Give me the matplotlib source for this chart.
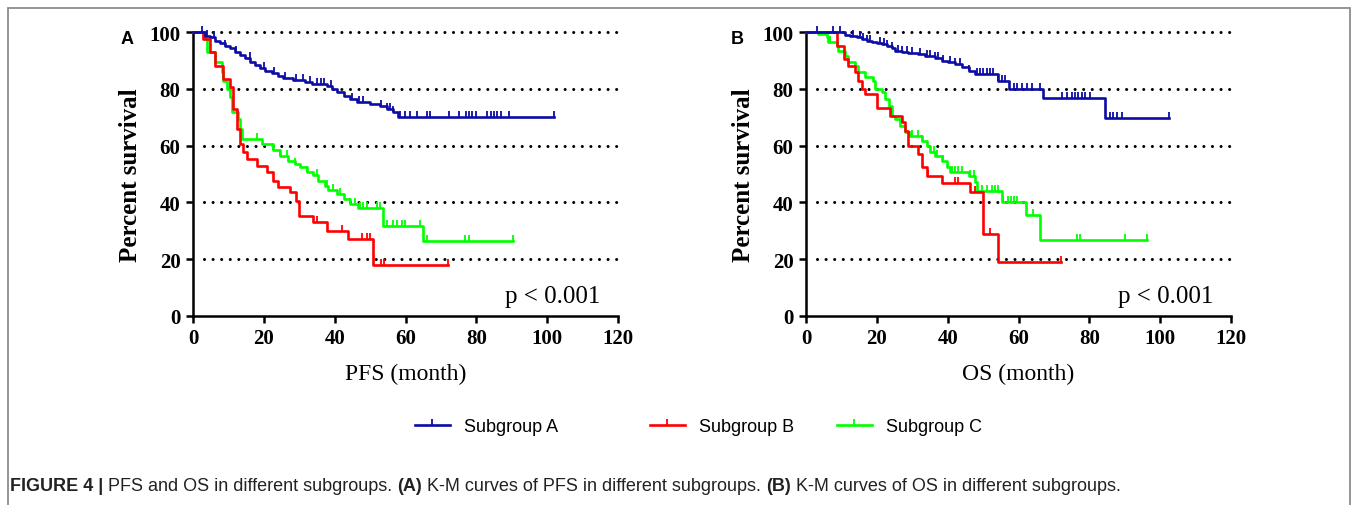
import matplotlib
matplotlib.use('Agg')
import matplotlib.pyplot as plt
import numpy as np
from matplotlib.lines import Line2D
from matplotlib.patches import Rectangle

GROUPS = ['Subgroup A', 'Subgroup B', 'Subgroup C']
COLORS = ['#0c0ca6', '#ff0000', '#00ff00']
X_TICKS = [0, 20, 40, 60, 80, 100, 120]
Y_TICKS = [0, 20, 40, 60, 80, 100]

# ---- PFS (panel A) ----
pfs_a_t = [3.4, 4.8, 6.2, 7.6, 9.0, 10.5, 11.9, 13.3, 14.7, 16.1, 17.5, 18.9, 20.3, 22.2,
           24.1, 25.5, 28.3, 31.6, 33.5, 37.8, 39.2, 40.6, 42.5, 44.4, 46.2, 50.0, 52.8,
           54.7, 56.6, 58.0]
pfs_a_s = [98.7, 98.1, 96.9, 96.1, 95.2, 94.3, 93.1, 91.9, 90.7, 89.6, 88.4, 87.2, 86.4, 85.6,
           84.6, 83.7, 83.2, 82.3, 81.7, 81.1, 79.9, 78.8, 77.6, 76.4, 75.5, 74.6, 73.8,
           72.9, 72.0, 70.2]
pfs_a_end = 102
pfs_a_cens = [2.5, 4, 6, 9, 12, 16, 20, 23, 26, 29, 31, 33, 35, 36, 37, 39, 45, 47, 48, 53,
              54.7, 55.6, 56.6, 58.5, 59.9, 61.3, 63.3, 66.1, 67, 72.3, 75.2, 77, 77.9, 78.9,
              79.8, 83.1, 84, 85, 85.9, 86.9, 89.1, 102]

pfs_b_t = [2.9, 4.8, 6.2, 8.6, 10.5, 11.4, 12.3, 13.3, 14.2, 15.2, 18.0, 20.8, 22.7, 24.1,
           27.4, 29.0, 29.8, 34.0, 37.8, 43.9, 50.8]
pfs_b_s = [97.5, 92.8, 88.1, 83.5, 80.5, 72.9, 65.8, 60.6, 57.6, 55.3, 52.9, 50.6, 47.6, 45.3,
           43.5, 40.6, 35.3, 33.0, 30.0, 27.1, 17.9]
pfs_b_end = 72
pfs_b_cens = [35, 42, 47.8, 49, 50, 53, 54, 72]

pfs_c_t = [3.4, 3.9, 6.2, 8.1, 8.6, 9.5, 10.5, 10.9, 12.8, 13.3, 13.7, 19.4, 22.7, 24.6,
           26.9, 28.8, 30.2, 32.1, 34.0, 35.4, 37.3, 38.2, 40.6, 42.5, 44.4, 46.6, 53.7, 65.0]
pfs_c_s = [97.5, 92.8, 89.3, 85.8, 82.9, 79.9, 77.0, 71.7, 69.4, 65.8, 62.3, 60.6, 58.3, 56.5,
           54.7, 53.6, 52.4, 50.6, 49.5, 47.7, 45.9, 44.2, 43.0, 41.2, 39.5, 38.0, 31.8, 26.5]
pfs_c_end = 90.3
pfs_c_cens = [12.8, 18, 22.7, 24.6, 26.5, 28.8, 32.1, 34.9, 37.8, 39.6, 41.5, 44.4, 45.8,
              47.2, 48.1, 49, 51.9, 52.8, 54.7, 56.6, 57.5, 58.9, 59.9, 64.1, 66, 76.8, 77.8, 90.3]

# ---- OS (panel B) ----
os_a_t = [11.0, 12.4, 14.3, 15.7, 17.1, 18.6, 20.0, 21.4, 22.8, 24.2, 25.1, 27.0, 28.9, 31.7,
          33.6, 36.4, 38.3, 40.2, 42.1, 44.0, 45.9, 47.7, 54.3, 57.2, 67.0, 84.5]
os_a_s = [98.9, 98.5, 98.1, 97.5, 96.9, 96.6, 96.1, 95.8, 95.2, 94.3, 93.4, 92.8, 92.6, 92.3,
          91.7, 90.7, 89.9, 89.3, 88.7, 87.6, 86.4, 85.2, 82.9, 79.9, 76.6, 69.7]
os_a_end = 102.4
os_a_cens = [3, 7.7, 9.6, 13.4, 15.3, 16.2, 17.1, 18.1, 20.9, 21.9, 22.8, 24.2, 26.1, 27, 28.4,
             29.9, 32.2, 34.1, 35, 36.4, 37.4, 38.8, 40.7, 42.1, 43.5, 45.9, 48.2, 49.2, 50.1,
             51, 52, 52.9, 54.3, 55.3, 56.2, 58.6, 59.5, 60.9, 62.3, 63.7, 66.1, 72.2, 73.6,
             75, 76, 76.9, 77.9, 78.8, 80.2, 85.9, 86.8, 87.8, 89.2, 102.4]

os_b_t = [8.7, 10.8, 11.9, 13.8, 14.8, 15.7, 16.7, 20.0, 23.7, 27.0, 28.0, 28.9, 31.7, 32.7,
          34.1, 38.3, 46.3, 50.1, 54.1]
os_b_s = [95.2, 90.5, 88.1, 85.8, 82.9, 79.9, 78.2, 73.1, 70.5, 68.2, 65.3, 60.0, 57.0, 52.3,
          49.4, 47.0, 43.5, 28.8, 19.1]
os_b_end = 72
os_b_cens = [27.2, 34.5, 42, 43, 47.7, 51.9, 72]

os_c_t = [3.5, 5.8, 6.3, 8.7, 9.1, 11.0, 11.9, 13.8, 14.8, 16.7, 19.0, 19.5, 21.4, 22.3, 23.3,
          24.2, 25.1, 26.6, 28.0, 29.4, 32.7, 34.1, 35.0, 36.4, 38.3, 39.7, 40.7, 45.9, 47.7,
          48.2, 55.3, 62.1, 66.1]
os_c_s = [99.3, 98.1, 96.4, 95.2, 93.4, 91.7, 89.3, 88.1, 85.8, 84.0, 82.9, 79.9, 78.8, 76.4,
          74.1, 70.5, 69.4, 67.0, 64.7, 63.5, 61.7, 60.0, 57.6, 56.5, 54.7, 52.3, 50.6, 49.4,
          47.1, 44.1, 40.0, 35.7, 26.8]
os_c_end = 96.4
os_c_cens = [6.8, 29.9, 31.7, 32.7, 36, 37, 38.8, 41.1, 42.1, 43, 44, 46.3, 47.3, 49.6, 51,
             52.4, 53.4, 54.3, 55.7, 57.1, 58, 58.6, 59.5, 64.2, 76.4, 77.4, 90.1, 96.4]

SERIF = 'Liberation Serif'
SANS = 'Liberation Sans'


def km_curve(ax, t, s, end, cens, color):
    x = np.r_[0, t, end]
    y = np.r_[100, s, s[-1]]
    ax.step(x, y, where='post', color=color, lw=1.9, clip_on=False, zorder=3)
    cens = np.asarray(cens, dtype=float)
    idx = np.searchsorted(x, cens, side='right') - 1
    ax.plot(cens, y[idx], ls='none', marker=2, ms=4, mew=1.3, color=color,
            clip_on=False, zorder=3)


def style_axis(ax, xlabel):
    ax.set_xlim(0, 120)
    ax.set_ylim(0, 100)
    ax.set_xticks(X_TICKS)
    ax.set_yticks(Y_TICKS)
    for sp in ['top', 'right']:
        ax.spines[sp].set_visible(False)
    for sp in ['left', 'bottom']:
        ax.spines[sp].set_linewidth(1.8)
    ax.tick_params(width=1.8, length=5, direction='out', pad=4)
    for lab in ax.get_xticklabels() + ax.get_yticklabels():
        lab.set_fontfamily(SERIF)
        lab.set_fontweight('bold')
        lab.set_fontsize(15)
    ax.hlines(Y_TICKS[1:], 3, 120, colors='black', lw=2.2,
              linestyles=[(0, (0.01, 2.8))], capstyle='round', zorder=1, clip_on=False)
    ax.set_xlabel(xlabel, fontfamily=SERIF, fontsize=17, labelpad=10)
    ax.set_ylabel('Percent survival', fontfamily=SERIF, fontsize=18,
                  fontweight='bold', labelpad=5)
    ax.text(115, 5, 'p < 0.001', fontfamily=SERIF, fontsize=18,
            ha='right', va='baseline')


fig = plt.figure(figsize=(13.57, 5.06), dpi=100)
W, H = 1357, 506
ax_a = fig.add_axes([193 / W, 1 - 317 / H, 425 / W, 284 / H])
ax_b = fig.add_axes([806 / W, 1 - 317 / H, 425 / W, 284 / H])

panels = [
    (ax_a, 'PFS (month)', [(pfs_a_t, pfs_a_s, pfs_a_end, pfs_a_cens),
                           (pfs_b_t, pfs_b_s, pfs_b_end, pfs_b_cens),
                           (pfs_c_t, pfs_c_s, pfs_c_end, pfs_c_cens)]),
    (ax_b, 'OS (month)', [(os_a_t, os_a_s, os_a_end, os_a_cens),
                          (os_b_t, os_b_s, os_b_end, os_b_cens),
                          (os_c_t, os_c_s, os_c_end, os_c_cens)]),
]
for ax, xlabel, series in panels:
    style_axis(ax, xlabel)
    # draw green, red, blue order so blue is on top
    for i in [2, 1, 0]:
        t, s, end, cens = series[i]
        km_curve(ax, t, s, end, cens, COLORS[i])

fig.text(127 / W, 1 - 40 / H, 'A', fontfamily=SANS, fontweight='bold', fontsize=13,
         ha='center', va='center')
fig.text(737 / W, 1 - 40 / H, 'B', fontfamily=SANS, fontweight='bold', fontsize=13,
         ha='center', va='center')

# legend entries sit at uneven spacing in the original, so one legend per entry
legend_x = [408, 643, 830]
for name, c, lx in zip(GROUPS, COLORS, legend_x):
    h = Line2D([], [], color=c, lw=1.9, marker=2, ms=4, mew=1.3)
    fig.legend([h], [name], loc='center left', bbox_to_anchor=(lx / W, 1 - 428 / H),
               frameon=False, prop={'family': SANS, 'size': 13}, borderaxespad=0,
               handlelength=1.9, numpoints=1, handletextpad=0.8)

# outer frame
fig.patches.append(Rectangle((8 / W, -0.05), 1342 / W, 1.05 - 9 / H, transform=fig.transFigure,
                             fill=False, edgecolor='#8c8c8c', lw=1.3))

# caption with mixed bold / regular parts
caption = [('FIGURE 4 | ', 'bold'), ('PFS and OS in different subgroups. ', 'normal'),
           ('(A)', 'bold'), (' K-M curves of PFS in different subgroups. ', 'normal'),
           ('(B)', 'bold'), (' K-M curves of OS in different subgroups.', 'normal')]
renderer = fig.canvas.get_renderer()
x0 = 10 / W
for txt, wt in caption:
    t = fig.text(x0, 1 - 487 / H, txt, fontfamily=SANS, fontweight=wt, fontsize=13,
                 color='#222222', ha='left', va='center')
    bb = t.get_window_extent(renderer)
    x0 = bb.x1 / W

fig.savefig('out.png', dpi=100)
